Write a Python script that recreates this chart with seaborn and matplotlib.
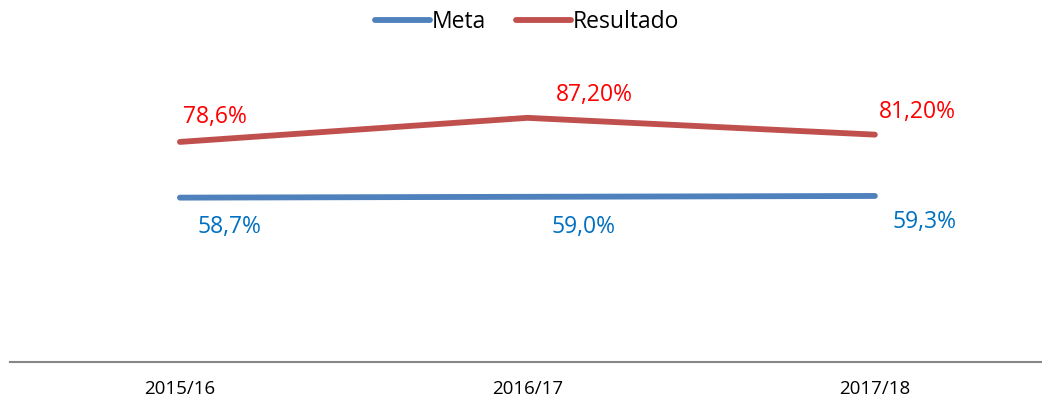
import numpy as np
import pandas as pd
import matplotlib
matplotlib.use("Agg")
import matplotlib.pyplot as plt
from matplotlib.lines import Line2D
import seaborn as sns

# data
periodos = ["2015/16", "2016/17", "2017/18"]
meta = [58.7, 59.0, 59.3]
resultado = [78.6, 87.2, 81.2]
meta_labels = ["58,7%", "59,0%", "59,3%"]
resultado_labels = ["78,6%", "87,20%", "81,20%"]

df = pd.DataFrame({
    "periodo": periodos * 2,
    "x": list(range(len(periodos))) * 2,
    "valor": meta + resultado,
    "serie": ["Meta"] * 3 + ["Resultado"] * 3,
})

sns.set_style("white")
plt.rcParams["font.family"] = ["Open Sans", "DejaVu Sans"]
plt.rcParams["text.color"] = "black"
plt.rcParams["xtick.color"] = "black"

fig = plt.figure(figsize=(10.42, 4.13), dpi=100)
ax = fig.add_axes([10 / 1042, 1 - 362 / 413, 1 - 10 / 1042, 280 / 413])

palette = {"Meta": "#4F81BD", "Resultado": "#C0504D"}
sns.lineplot(data=df, x="x", y="valor", hue="serie", palette=palette,
             linewidth=4.2, ax=ax, solid_capstyle="round", legend=False)

# data labels
red_off = [(35, 25), (67, 23), (43, 23)]
blue_off = [(50, -29), (56, -30), (50, -26)]
for i in range(len(periodos)):
    ax.annotate(resultado_labels[i], (i, resultado[i]), xytext=red_off[i],
                textcoords="offset pixels", ha="center", va="center",
                color="#FF0000", fontsize=16.5)
    ax.annotate(meta_labels[i], (i, meta[i]), xytext=blue_off[i],
                textcoords="offset pixels", ha="center", va="center",
                color="#0070C0", fontsize=16.5)

ax.set_xlim(-0.489, 2.481)
ax.set_ylim(0, 100)
ax.set_xticks(range(len(periodos)))
ax.set_xticklabels(periodos, fontsize=13.5, color="black")
ax.tick_params(axis="x", length=0, pad=13)
ax.set_yticks([])
ax.set_xlabel("")
ax.set_ylabel("")
for s in ["top", "right", "left"]:
    ax.spines[s].set_visible(False)
ax.spines["bottom"].set_color("#868686")
ax.spines["bottom"].set_linewidth(1.5)

handles = [Line2D([0], [0], color=palette[k], lw=4.2, solid_capstyle="round") for k in ["Meta", "Resultado"]]
fig.legend(handles, ["Meta", "Resultado"], loc="center", bbox_to_anchor=(527 / 1042, 1 - 22 / 413),
           ncol=2, frameon=False, fontsize=16.5, handlelength=2.4, handletextpad=0.1,
           columnspacing=1.3)

fig.savefig("out.png", dpi=100)
